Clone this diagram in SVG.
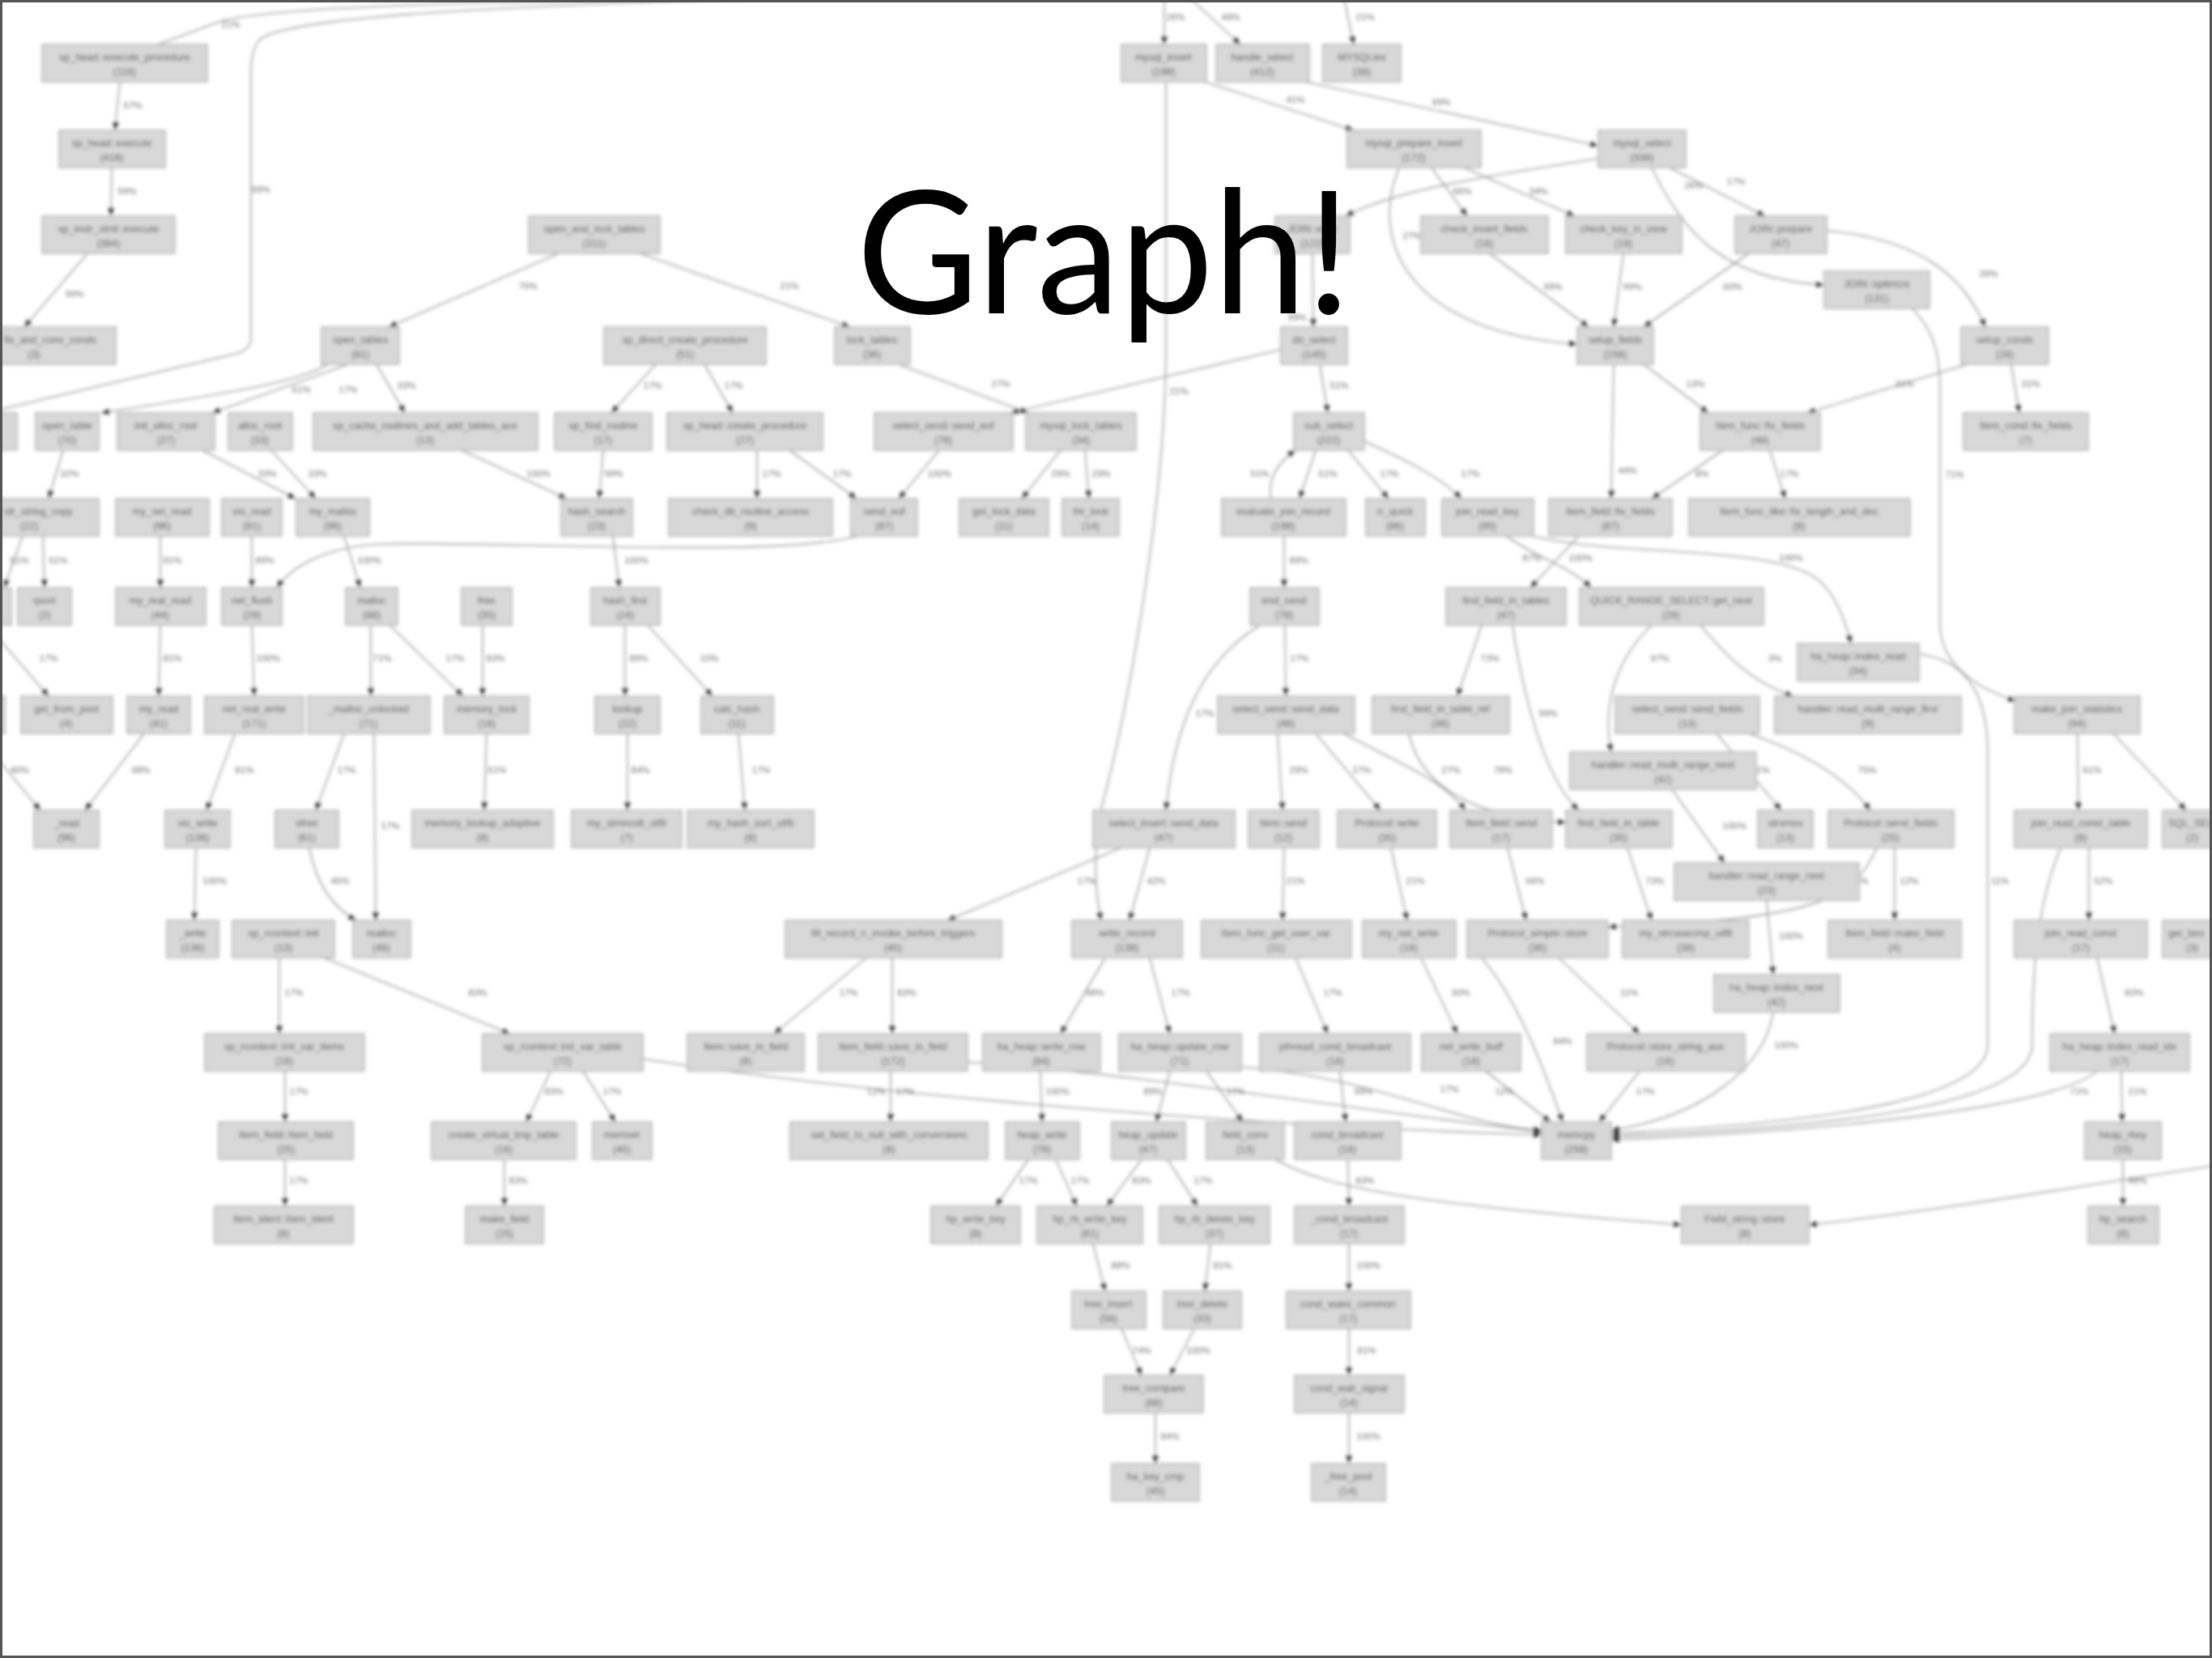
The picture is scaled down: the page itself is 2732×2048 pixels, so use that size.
<svg xmlns="http://www.w3.org/2000/svg" width="2732" height="2048" viewBox="0 0 2732 2048">
<style>
.nd rect{fill:#d8d8d8;stroke:#b0b0b0;stroke-width:1.5}
.nd text{font-family:"Liberation Sans",Arial,sans-serif;font-size:12.5px;fill:#4a4a4a;text-anchor:middle}
.nd text.st{text-anchor:start}
.e path{fill:none;stroke:#9c9c9c;stroke-width:1.6;marker-end:url(#ah)}
.e path.nm{marker-end:none}
.e text{font-family:"Liberation Sans",Arial,sans-serif;font-size:11.5px;fill:#707070;text-anchor:middle}
.title{font-family:Lato,"Open Sans","Liberation Sans",sans-serif;font-size:212px;fill:#000}
</style>
<defs>
<marker id="ah" markerUnits="userSpaceOnUse" markerWidth="10" markerHeight="8" refX="10" refY="4" orient="auto"><path d="M0,0 L10,4 L0,8 z" fill="#333"/></marker>
<filter id="soft" x="-2%" y="-2%" width="104%" height="104%"><feGaussianBlur stdDeviation="2"/></filter>
</defs>
<rect x="0" y="0" width="2732" height="2048" fill="#fff"/>
<g filter="url(#soft)">
<g id="connectors" class="e">
<path class="nm" d="M900,-2 C600,2 320,8 268,28 L195,55"/><text x="285" y="34">21%</text>
<path class="nm" d="M930,-2 C620,8 360,20 322,48 Q310,58 310,90 L310,418 Q310,430 295,436 L-5,507"/><text x="322" y="238">99%</text>
<path d="M148,101 L142,161"/><text x="164" y="134">57%</text>
<path d="M138,207 L137,267"/><text x="157" y="240">99%</text>
<path d="M108,313 L30,404"/><text x="92" y="367">99%</text>
<path d="M1438,-2 L1438,55"/><text x="1452" y="25">26%</text>
<path d="M1470,-2 L1532,55"/><text x="1520" y="25">49%</text>
<path d="M1660,-2 L1672,55"/><text x="1686" y="25">21%</text>
<path d="M1440,101 L1440,430 C1440,600 1400,850 1360,1000 C1350,1050 1352,1100 1360,1137"/><text x="1456" y="487">21%</text><text x="1342" y="1092">17%</text>
<path d="M1488,101 L1672,161"/><text x="1600" y="127">41%</text>
<path d="M1612,101 L1974,180"/><text x="1780" y="130">99%</text>
<path d="M1974,196 C1850,215 1720,235 1662,267"/>
<path d="M1768,207 L1812,267"/><text x="1806" y="240">66%</text>
<path d="M1808,207 L1945,267"/><text x="1900" y="240">34%</text>
<path d="M1728,207 C1690,300 1740,410 1948,425"/><text x="1744" y="295">27%</text>
<path d="M1621,313 L1622,404"/><text x="1602" y="396">99%</text>
<path d="M1840,313 L1962,404"/><text x="1918" y="358">99%</text>
<path d="M2005,313 L1993,404"/><text x="2016" y="358">99%</text>
<path d="M2160,313 L2030,404"/><text x="2140" y="358">60%</text>
<path d="M2062,207 L2180,267"/><text x="2144" y="228">17%</text>
<path d="M2040,207 C2080,290 2130,345 2253,352"/><text x="2092" y="233">26%</text>
<path d="M2256,285 C2370,295 2425,340 2452,404"/><text x="2456" y="342">39%</text>
<path d="M2362,381 C2390,410 2396,440 2396,480 L2396,770 C2396,820 2440,850 2490,866"/><text x="2414" y="590">71%</text>
<path d="M2030,450 L2110,510"/><text x="2094" y="478">13%</text>
<path d="M2430,450 L2232,510"/><text x="2352" y="478">31%</text>
<path d="M2484,450 L2494,510"/><text x="2508" y="478">31%</text>
<path d="M1993,450 L1990,616"/><text x="2010" y="585">44%</text>
<path d="M2128,556 L2040,616"/><text x="2102" y="589">8%</text>
<path d="M2186,556 L2205,616"/><text x="2210" y="589">17%</text>
<path d="M1950,662 L1890,726"/><text x="1892" y="693">87%</text>
<path d="M1860,662 C1900,690 1940,700 1965,726"/><text x="1952" y="693">100%</text>
<path d="M1885,660 C1990,690 2200,670 2250,720 C2270,740 2280,770 2286,795"/><text x="2212" y="693">100%</text>
<path d="M1830,772 L1800,860"/><text x="1840" y="817">73%</text>
<path d="M1868,772 C1880,850 1905,960 1950,1001"/><text x="1912" y="885">99%</text>
<path d="M1740,906 C1760,990 1850,1010 1934,1016"/><text x="1856" y="955">78%</text>
<path d="M2040,772 C1990,820 1980,880 1990,929"/><text x="2050" y="817">97%</text>
<path d="M2100,772 C2140,820 2170,845 2215,860"/><text x="2192" y="817">3%</text>
<path d="M2370,808 C2430,815 2455,860 2455,930 L2455,1290 C2455,1350 2300,1385 1990,1400"/><text x="2470" y="1092">11%</text>
<path d="M2120,906 L2200,1001"/><text x="2174" y="955">21%</text>
<path d="M2160,906 C2230,930 2280,960 2310,1001"/><text x="2306" y="955">75%</text>
<path d="M2065,975 L2130,1066"/><text x="2142" y="1024">100%</text>
<path d="M2182,1112 L2190,1204"/><text x="2212" y="1160">100%</text>
<path d="M2190,1250 C2180,1320 2100,1380 1990,1396"/><text x="2206" y="1295">100%</text>
<path d="M2340,1047 L2340,1137"/><text x="2358" y="1092">12%</text>
<path d="M2318,1047 C2290,1110 2250,1135 1986,1145"/><text x="2296" y="1092">13%</text>
<path d="M2010,1047 L2040,1137"/><text x="2044" y="1092">73%</text>
<path d="M1862,1047 L1885,1137"/><text x="1896" y="1092">66%</text>
<path d="M1925,1183 L2025,1277"/><text x="2012" y="1230">11%</text>
<path d="M2025,1323 L1975,1386"/><text x="2032" y="1352">17%</text>
<path d="M1755,1183 L1800,1277"/><text x="1804" y="1230">30%</text>
<path d="M1830,1183 C1870,1230 1900,1300 1930,1386"/><text x="1930" y="1290">84%</text>
<path d="M1718,1047 L1738,1137"/><text x="1748" y="1092">21%</text>
<path d="M1586,1047 L1584,1137"/><text x="1600" y="1092">21%</text>
<path d="M1600,1183 L1640,1277"/><text x="1646" y="1230">17%</text>
<path d="M1655,1323 L1662,1386"/><text x="1684" y="1352">99%</text>
<path d="M1665,1432 L1666,1490"/><text x="1686" y="1462">83%</text>
<path d="M1666,1536 L1666,1595"/><text x="1690" y="1567">100%</text>
<path d="M1666,1641 L1666,1699"/><text x="1688" y="1672">81%</text>
<path d="M1666,1745 L1666,1808"/><text x="1690" y="1778">100%</text>
<path d="M1578,906 L1584,1001"/><text x="1604" y="955">29%</text>
<path d="M1625,906 L1705,1001"/><text x="1682" y="955">27%</text>
<path d="M1660,906 C1720,940 1780,960 1810,1001"/><text x="1792" y="955">27%</text>
<path d="M1587,772 L1588,860"/><text x="1605" y="817">17%</text>
<path d="M1556,772 C1480,820 1450,900 1440,1001"/><text x="1488" y="885">17%</text>
<path d="M1586,662 L1586,726"/><text x="1604" y="696">89%</text>
<path d="M1625,556 L1605,616"/><text x="1640" y="589">51%</text>
<path d="M1570,616 C1565,590 1580,570 1600,556"/><text x="1556" y="589">51%</text>
<path d="M1665,556 L1715,616"/><text x="1716" y="589">17%</text>
<path d="M1685,545 C1740,570 1780,590 1805,616"/><text x="1816" y="589">17%</text>
<path d="M1630,450 L1640,510"/><text x="1654" y="480">51%</text>
<path d="M1582,432 L1248,510"/>
<path d="M1110,450 L1270,510"/><text x="1236" y="478">27%</text>
<path d="M690,313 L480,404"/><text x="652" y="357">76%</text>
<path d="M790,313 L1050,404"/><text x="975" y="357">21%</text>
<path d="M405,450 C370,470 320,480 125,510"/><text x="372" y="485">61%</text>
<path d="M430,450 L262,510"/><text x="430" y="485">17%</text>
<path d="M465,450 L500,510"/><text x="502" y="480">33%</text>
<path d="M810,450 L755,510"/><text x="806" y="480">17%</text>
<path d="M870,450 L905,510"/><text x="906" y="480">17%</text>
<path d="M78,556 L60,616"/><text x="86" y="589">32%</text>
<path d="M250,556 L365,616"/><text x="330" y="589">33%</text>
<path d="M335,556 L390,616"/><text x="392" y="589">33%</text>
<path d="M570,556 L700,616"/><text x="665" y="589">100%</text>
<path d="M745,556 L740,616"/><text x="758" y="589">99%</text>
<path d="M935,556 L935,616"/><text x="953" y="589">17%</text>
<path d="M975,556 L1058,616"/><text x="1040" y="589">17%</text>
<path d="M1160,556 L1110,616"/><text x="1160" y="589">100%</text>
<path d="M1310,556 L1262,616"/><text x="1310" y="589">29%</text>
<path d="M1340,556 L1345,616"/><text x="1360" y="589">29%</text>
<path d="M757,662 L765,726"/><text x="786" y="696">100%</text>
<path d="M425,662 L445,726"/><text x="456" y="696">100%</text>
<path d="M1060,662 C960,690 620,668 470,672 C400,676 360,700 342,726"/>
<path d="M53,662 L55,726"/><text x="72" y="696">51%</text>
<path d="M28,662 L5,726"/><text x="24" y="696">51%</text>
<path d="M198,662 L198,726"/><text x="213" y="696">81%</text>
<path d="M311,662 L311,726"/><text x="327" y="696">89%</text>
<path d="M198,772 L196,860"/><text x="213" y="817">81%</text>
<path d="M311,772 L314,860"/><text x="331" y="817">100%</text>
<path d="M458,772 L458,860"/><text x="472" y="817">71%</text>
<path d="M481,772 L572,860"/><text x="562" y="817">17%</text>
<path d="M596,772 L596,860"/><text x="612" y="817">83%</text>
<path d="M772,772 L772,860"/><text x="789" y="817">89%</text>
<path d="M800,772 L880,860"/><text x="876" y="817">10%</text>
<path d="M-5,785 L60,860"/><text x="60" y="817">17%</text>
<path d="M178,906 L105,1001"/><text x="174" y="955">98%</text>
<path d="M-5,935 L50,1001"/><text x="24" y="955">40%</text>
<path d="M290,906 L255,1001"/><text x="302" y="955">81%</text>
<path d="M425,906 L390,1001"/><text x="428" y="955">17%</text>
<path d="M462,906 L464,1137"/><text x="482" y="1024">17%</text>
<path d="M601,906 L598,1001"/><text x="614" y="955">61%</text>
<path d="M775,906 L775,1001"/><text x="791" y="955">84%</text>
<path d="M912,906 L920,1001"/><text x="940" y="955">17%</text>
<path d="M242,1047 L240,1137"/><text x="265" y="1092">100%</text>
<path d="M382,1047 C390,1090 410,1120 440,1137"/><text x="420" y="1092">45%</text>
<path d="M345,1183 L345,1277"/><text x="363" y="1230">17%</text>
<path d="M400,1183 L630,1277"/><text x="590" y="1230">83%</text>
<path d="M352,1323 L352,1386"/><text x="369" y="1352">17%</text>
<path d="M352,1432 L352,1490"/><text x="369" y="1462">17%</text>
<path d="M680,1323 L650,1386"/><text x="684" y="1352">83%</text>
<path d="M720,1323 L760,1386"/><text x="756" y="1352">17%</text>
<path d="M623,1432 L623,1490"/><text x="640" y="1462">83%</text>
<path d="M794,1308 C1000,1340 1400,1385 1904,1402"/>
<path d="M1195,1312 C1400,1325 1700,1375 1904,1398"/>
<path d="M1533,1318 C1700,1330 1800,1390 1904,1396"/><text x="1790" y="1349">17%</text>
<path d="M1835,1323 L1915,1386"/><text x="1858" y="1352">12%</text>
<path d="M1070,1183 L956,1277"/><text x="1048" y="1230">17%</text>
<path d="M1102,1183 L1102,1277"/><text x="1120" y="1230">83%</text>
<path d="M1385,1047 L1170,1137"/>
<path d="M1420,1047 L1395,1137"/><text x="1428" y="1092">42%</text>
<path d="M1365,1183 L1310,1277"/><text x="1352" y="1230">98%</text>
<path d="M1420,1183 L1445,1277"/><text x="1458" y="1230">17%</text>
<path d="M1285,1323 L1287,1386"/><text x="1306" y="1352">100%</text>
<path d="M1445,1323 L1428,1386"/><text x="1424" y="1352">89%</text>
<path d="M1490,1323 L1535,1386"/><text x="1526" y="1352">17%</text>
<path d="M1100,1323 L1100,1386"/><text x="1082" y="1352">12%</text><text x="1118" y="1352">17%</text>
<path d="M1270,1432 L1230,1490"/><text x="1270" y="1462">17%</text>
<path d="M1304,1432 L1330,1490"/><text x="1334" y="1462">17%</text>
<path d="M1410,1432 L1367,1490"/><text x="1410" y="1462">83%</text>
<path d="M1442,1432 L1479,1490"/><text x="1486" y="1462">17%</text>
<path d="M1350,1536 L1365,1595"/><text x="1384" y="1567">88%</text>
<path d="M1495,1536 L1488,1595"/><text x="1510" y="1567">81%</text>
<path d="M1385,1641 L1410,1699"/><text x="1410" y="1672">74%</text>
<path d="M1475,1641 L1445,1699"/><text x="1480" y="1672">100%</text>
<path d="M1427,1745 L1427,1808"/><text x="1445" y="1778">84%</text>
<path d="M1575,1432 C1650,1475 1800,1490 2077,1513"/>
<path d="M2735,1440 C2600,1460 2400,1495 2234,1513"/>
<path d="M2580,1047 L2580,1137"/><text x="2598" y="1092">52%</text>
<path d="M2545,1047 C2515,1120 2510,1200 2510,1290 C2510,1360 2300,1392 1990,1404"/><text x="2526" y="1183">66%</text>
<path d="M2590,1183 L2612,1277"/><text x="2636" y="1230">83%</text>
<path d="M2620,1323 L2621,1386"/><text x="2640" y="1352">21%</text>
<path d="M2590,1323 C2540,1365 2300,1395 1990,1408"/><text x="2568" y="1352">71%</text>
<path d="M2622,1432 L2622,1490"/><text x="2640" y="1462">88%</text>
<path d="M2566,906 L2567,1001"/><text x="2584" y="955">61%</text>
<path d="M2610,906 L2700,1001"/>
</g>
<g id="nodes">
<g id="n1" class="nd"><rect x="52" y="55" width="204" height="46"/><text x="154" y="75">sp_head::execute_procedure</text><text x="154" y="93">(116)</text></g>
<g id="n2" class="nd"><rect x="1385" y="55" width="105" height="46"/><text x="1437" y="75">mysql_insert</text><text x="1437" y="93">(198)</text></g>
<g id="n3" class="nd"><rect x="1502" y="55" width="115" height="46"/><text x="1559" y="75">handle_select</text><text x="1559" y="93">(412)</text></g>
<g id="n4" class="nd"><rect x="1634" y="55" width="96" height="46"/><text x="1682" y="75">MYSQLlex</text><text x="1682" y="93">(38)</text></g>
<g id="n5" class="nd"><rect x="73" y="161" width="131" height="46"/><text x="138" y="181">sp_head::execute</text><text x="138" y="199">(416)</text></g>
<g id="n6" class="nd"><rect x="1664" y="161" width="165" height="46"/><text x="1746" y="181">mysql_prepare_insert</text><text x="1746" y="199">(172)</text></g>
<g id="n7" class="nd"><rect x="1974" y="161" width="108" height="46"/><text x="2028" y="181">mysql_select</text><text x="2028" y="199">(338)</text></g>
<g id="n8" class="nd"><rect x="52" y="267" width="164" height="46"/><text x="134" y="287">sp_instr_stmt::execute</text><text x="134" y="305">(384)</text></g>
<g id="n9" class="nd"><rect x="653" y="267" width="162" height="46"/><text x="734" y="287">open_and_lock_tables</text><text x="734" y="305">(311)</text></g>
<g id="n10" class="nd"><rect x="1575" y="267" width="92" height="46"/><text x="1621" y="287">JOIN::exec</text><text x="1621" y="305">(122)</text></g>
<g id="n11" class="nd"><rect x="1755" y="267" width="157" height="46"/><text x="1833" y="287">check_insert_fields</text><text x="1833" y="305">(18)</text></g>
<g id="n12" class="nd"><rect x="1934" y="267" width="143" height="46"/><text x="2005" y="287">check_key_in_view</text><text x="2005" y="305">(19)</text></g>
<g id="n13" class="nd"><rect x="2143" y="267" width="113" height="46"/><text x="2199" y="287">JOIN::prepare</text><text x="2199" y="305">(47)</text></g>
<g id="n14" class="nd"><rect x="2253" y="335" width="130" height="46"/><text x="2318" y="355">JOIN::optimize</text><text x="2318" y="373">(131)</text></g>
<g id="n15" class="nd"><rect x="-60" y="404" width="203" height="46"/><text class="st" x="5" y="424">fix_and_conv_conds</text><text x="42" y="442">(3)</text></g>
<g id="n16" class="nd"><rect x="397" y="404" width="96" height="46"/><text x="445" y="424">open_tables</text><text x="445" y="442">(81)</text></g>
<g id="n17" class="nd"><rect x="746" y="404" width="200" height="46"/><text x="846" y="424">sp_direct_create_procedure</text><text x="846" y="442">(51)</text></g>
<g id="n18" class="nd"><rect x="1031" y="404" width="93" height="46"/><text x="1077" y="424">lock_tables</text><text x="1077" y="442">(36)</text></g>
<g id="n19" class="nd"><rect x="1582" y="404" width="82" height="46"/><text x="1623" y="424">do_select</text><text x="1623" y="442">(145)</text></g>
<g id="n20" class="nd"><rect x="1948" y="404" width="94" height="46"/><text x="1995" y="424">setup_fields</text><text x="1995" y="442">(158)</text></g>
<g id="n21" class="nd"><rect x="2422" y="404" width="108" height="46"/><text x="2476" y="424">setup_conds</text><text x="2476" y="442">(28)</text></g>
<g id="n22" class="nd"><rect x="-60" y="510" width="81" height="46"/></g>
<g id="n23" class="nd"><rect x="44" y="510" width="78" height="46"/><text x="83" y="530">open_table</text><text x="83" y="548">(70)</text></g>
<g id="n24" class="nd"><rect x="145" y="510" width="120" height="46"/><text x="205" y="530">init_alloc_root</text><text x="205" y="548">(27)</text></g>
<g id="n25" class="nd"><rect x="282" y="510" width="79" height="46"/><text x="321" y="530">alloc_root</text><text x="321" y="548">(33)</text></g>
<g id="n26" class="nd"><rect x="387" y="510" width="277" height="46"/><text x="525" y="530">sp_cache_routines_and_add_tables_aux</text><text x="525" y="548">(13)</text></g>
<g id="n27" class="nd"><rect x="685" y="510" width="120" height="46"/><text x="745" y="530">sp_find_routine</text><text x="745" y="548">(17)</text></g>
<g id="n28" class="nd"><rect x="824" y="510" width="192" height="46"/><text x="920" y="530">sp_head::create_procedure</text><text x="920" y="548">(27)</text></g>
<g id="n29" class="nd"><rect x="1080" y="510" width="171" height="46"/><text x="1165" y="530">select_send::send_eof</text><text x="1165" y="548">(78)</text></g>
<g id="n30" class="nd"><rect x="1267" y="510" width="136" height="46"/><text x="1335" y="530">mysql_lock_tables</text><text x="1335" y="548">(34)</text></g>
<g id="n31" class="nd"><rect x="1598" y="510" width="87" height="46"/><text x="1641" y="530">sub_select</text><text x="1641" y="548">(222)</text></g>
<g id="n32" class="nd"><rect x="2100" y="510" width="148" height="46"/><text x="2174" y="530">Item_func::fix_fields</text><text x="2174" y="548">(48)</text></g>
<g id="n33" class="nd"><rect x="2425" y="510" width="154" height="46"/><text x="2502" y="530">Item_cond::fix_fields</text><text x="2502" y="548">(7)</text></g>
<g id="n34" class="nd"><rect x="-50" y="616" width="172" height="46"/><text class="st" x="5" y="636">str_string_copy</text><text x="36" y="654">(22)</text></g>
<g id="n35" class="nd"><rect x="143" y="616" width="115" height="46"/><text x="200" y="636">my_net_read</text><text x="200" y="654">(96)</text></g>
<g id="n36" class="nd"><rect x="274" y="616" width="74" height="46"/><text x="311" y="636">vio_read</text><text x="311" y="654">(81)</text></g>
<g id="n37" class="nd"><rect x="366" y="616" width="90" height="46"/><text x="411" y="636">my_malloc</text><text x="411" y="654">(96)</text></g>
<g id="n38" class="nd"><rect x="693" y="616" width="88" height="46"/><text x="737" y="636">hash_search</text><text x="737" y="654">(23)</text></g>
<g id="n39" class="nd"><rect x="826" y="616" width="202" height="46"/><text x="927" y="636">check_db_routine_access</text><text x="927" y="654">(9)</text></g>
<g id="n40" class="nd"><rect x="1051" y="616" width="82" height="46"/><text x="1092" y="636">send_eof</text><text x="1092" y="654">(87)</text></g>
<g id="n41" class="nd"><rect x="1185" y="616" width="110" height="46"/><text x="1240" y="636">get_lock_data</text><text x="1240" y="654">(11)</text></g>
<g id="n42" class="nd"><rect x="1312" y="616" width="70" height="46"/><text x="1347" y="636">thr_lock</text><text x="1347" y="654">(14)</text></g>
<g id="n43" class="nd"><rect x="1509" y="616" width="153" height="46"/><text x="1585" y="636">evaluate_join_record</text><text x="1585" y="654">(198)</text></g>
<g id="n44" class="nd"><rect x="1687" y="616" width="73" height="46"/><text x="1723" y="636">rr_quick</text><text x="1723" y="654">(86)</text></g>
<g id="n45" class="nd"><rect x="1781" y="616" width="113" height="46"/><text x="1837" y="636">join_read_key</text><text x="1837" y="654">(95)</text></g>
<g id="n46" class="nd"><rect x="1913" y="616" width="152" height="46"/><text x="1989" y="636">Item_field::fix_fields</text><text x="1989" y="654">(87)</text></g>
<g id="n47" class="nd"><rect x="2086" y="616" width="273" height="46"/><text x="2222" y="636">Item_func_like::fix_length_and_dec</text><text x="2222" y="654">(8)</text></g>
<g id="n48" class="nd"><rect x="-60" y="726" width="74" height="46"/></g>
<g id="n49" class="nd"><rect x="22" y="726" width="66" height="46"/><text x="55" y="746">qsort</text><text x="55" y="764">(2)</text></g>
<g id="n50" class="nd"><rect x="143" y="726" width="111" height="46"/><text x="198" y="746">my_real_read</text><text x="198" y="764">(44)</text></g>
<g id="n51" class="nd"><rect x="274" y="726" width="74" height="46"/><text x="311" y="746">net_flush</text><text x="311" y="764">(29)</text></g>
<g id="n52" class="nd"><rect x="427" y="726" width="64" height="46"/><text x="459" y="746">malloc</text><text x="459" y="764">(88)</text></g>
<g id="n53" class="nd"><rect x="570" y="726" width="62" height="46"/><text x="601" y="746">free</text><text x="601" y="764">(35)</text></g>
<g id="n54" class="nd"><rect x="730" y="726" width="85" height="46"/><text x="772" y="746">hash_first</text><text x="772" y="764">(24)</text></g>
<g id="n55" class="nd"><rect x="1544" y="726" width="85" height="46"/><text x="1586" y="746">end_send</text><text x="1586" y="764">(78)</text></g>
<g id="n56" class="nd"><rect x="1786" y="726" width="148" height="46"/><text x="1860" y="746">find_field_in_tables</text><text x="1860" y="764">(47)</text></g>
<g id="n57" class="nd"><rect x="1951" y="726" width="227" height="46"/><text x="2064" y="746">QUICK_RANGE_SELECT::get_next</text><text x="2064" y="764">(28)</text></g>
<g id="n58" class="nd"><rect x="2220" y="795" width="150" height="46"/><text x="2295" y="815">ha_heap::index_read</text><text x="2295" y="833">(34)</text></g>
<g id="n59" class="nd"><rect x="-60" y="860" width="66" height="46"/></g>
<g id="n60" class="nd"><rect x="26" y="860" width="113" height="46"/><text x="82" y="880">get_from_pool</text><text x="82" y="898">(4)</text></g>
<g id="n61" class="nd"><rect x="157" y="860" width="78" height="46"/><text x="196" y="880">my_read</text><text x="196" y="898">(41)</text></g>
<g id="n62" class="nd"><rect x="253" y="860" width="122" height="46"/><text x="314" y="880">net_real_write</text><text x="314" y="898">(171)</text></g>
<g id="n63" class="nd"><rect x="380" y="860" width="151" height="46"/><text x="455" y="880">_malloc_unlocked</text><text x="455" y="898">(71)</text></g>
<g id="n64" class="nd"><rect x="549" y="860" width="104" height="46"/><text x="601" y="880">memory_lock</text><text x="601" y="898">(18)</text></g>
<g id="n65" class="nd"><rect x="735" y="860" width="80" height="46"/><text x="775" y="880">lookup</text><text x="775" y="898">(22)</text></g>
<g id="n66" class="nd"><rect x="866" y="860" width="89" height="46"/><text x="910" y="880">calc_hash</text><text x="910" y="898">(11)</text></g>
<g id="n67" class="nd"><rect x="1504" y="860" width="169" height="46"/><text x="1588" y="880">select_send::send_data</text><text x="1588" y="898">(48)</text></g>
<g id="n68" class="nd"><rect x="1695" y="860" width="169" height="46"/><text x="1779" y="880">find_field_in_table_ref</text><text x="1779" y="898">(36)</text></g>
<g id="n69" class="nd"><rect x="1995" y="860" width="178" height="46"/><text x="2084" y="880">select_send::send_fields</text><text x="2084" y="898">(13)</text></g>
<g id="n70" class="nd"><rect x="2192" y="860" width="230" height="46"/><text x="2307" y="880">handler::read_multi_range_first</text><text x="2307" y="898">(9)</text></g>
<g id="n71" class="nd"><rect x="2488" y="860" width="155" height="46"/><text x="2565" y="880">make_join_statistics</text><text x="2565" y="898">(94)</text></g>
<g id="n72" class="nd"><rect x="1939" y="929" width="230" height="46"/><text x="2054" y="949">handler::read_multi_range_next</text><text x="2054" y="967">(42)</text></g>
<g id="n73" class="nd"><rect x="42" y="1001" width="80" height="46"/><text x="82" y="1021">_read</text><text x="82" y="1039">(96)</text></g>
<g id="n74" class="nd"><rect x="204" y="1001" width="80" height="46"/><text x="244" y="1021">vio_write</text><text x="244" y="1039">(136)</text></g>
<g id="n75" class="nd"><rect x="340" y="1001" width="78" height="46"/><text x="379" y="1021">sfree</text><text x="379" y="1039">(61)</text></g>
<g id="n76" class="nd"><rect x="509" y="1001" width="174" height="46"/><text x="596" y="1021">memory_lookup_adaptive</text><text x="596" y="1039">(8)</text></g>
<g id="n77" class="nd"><rect x="706" y="1001" width="136" height="46"/><text x="774" y="1021">my_strnncoll_utf8</text><text x="774" y="1039">(7)</text></g>
<g id="n78" class="nd"><rect x="849" y="1001" width="156" height="46"/><text x="927" y="1021">my_hash_sort_utf8</text><text x="927" y="1039">(8)</text></g>
<g id="n79" class="nd"><rect x="1350" y="1001" width="175" height="46"/><text x="1437" y="1021">select_insert::send_data</text><text x="1437" y="1039">(47)</text></g>
<g id="n80" class="nd"><rect x="1542" y="1001" width="87" height="46"/><text x="1585" y="1021">Item::send</text><text x="1585" y="1039">(12)</text></g>
<g id="n81" class="nd"><rect x="1652" y="1001" width="122" height="46"/><text x="1713" y="1021">Protocol::write</text><text x="1713" y="1039">(35)</text></g>
<g id="n82" class="nd"><rect x="1791" y="1001" width="126" height="46"/><text x="1854" y="1021">Item_field::send</text><text x="1854" y="1039">(17)</text></g>
<g id="n83" class="nd"><rect x="1934" y="1001" width="131" height="46"/><text x="1999" y="1021">find_field_in_table</text><text x="1999" y="1039">(35)</text></g>
<g id="n84" class="nd"><rect x="2171" y="1001" width="68" height="46"/><text x="2205" y="1021">strxmov</text><text x="2205" y="1039">(13)</text></g>
<g id="n85" class="nd"><rect x="2258" y="1001" width="155" height="46"/><text x="2335" y="1021">Protocol::send_fields</text><text x="2335" y="1039">(25)</text></g>
<g id="n86" class="nd"><rect x="2488" y="1001" width="164" height="46"/><text x="2570" y="1021">join_read_const_table</text><text x="2570" y="1039">(8)</text></g>
<g id="n87" class="nd"><rect x="2671" y="1001" width="140" height="46"/><text class="st" x="2678" y="1021">SQL_SEL</text><text class="st" x="2700" y="1039">(2)</text></g>
<g id="n88" class="nd"><rect x="2068" y="1066" width="228" height="46"/><text x="2182" y="1086">handler::read_range_next</text><text x="2182" y="1104">(23)</text></g>
<g id="n89" class="nd"><rect x="206" y="1137" width="64" height="46"/><text x="238" y="1157">_write</text><text x="238" y="1175">(136)</text></g>
<g id="n90" class="nd"><rect x="287" y="1137" width="126" height="46"/><text x="350" y="1157">sp_rcontext::init</text><text x="350" y="1175">(13)</text></g>
<g id="n91" class="nd"><rect x="436" y="1137" width="71" height="46"/><text x="471" y="1157">realloc</text><text x="471" y="1175">(48)</text></g>
<g id="n92" class="nd"><rect x="970" y="1137" width="267" height="46"/><text x="1103" y="1157">fill_record_n_invoke_before_triggers</text><text x="1103" y="1175">(45)</text></g>
<g id="n93" class="nd"><rect x="1324" y="1137" width="136" height="46"/><text x="1392" y="1157">write_record</text><text x="1392" y="1175">(138)</text></g>
<g id="n94" class="nd"><rect x="1484" y="1137" width="185" height="46"/><text x="1576" y="1157">Item_func_get_user_var</text><text x="1576" y="1175">(11)</text></g>
<g id="n95" class="nd"><rect x="1683" y="1137" width="115" height="46"/><text x="1740" y="1157">my_net_write</text><text x="1740" y="1175">(18)</text></g>
<g id="n96" class="nd"><rect x="1812" y="1137" width="174" height="46"/><text x="1899" y="1157">Protocol_simple::store</text><text x="1899" y="1175">(36)</text></g>
<g id="n97" class="nd"><rect x="2004" y="1137" width="156" height="46"/><text x="2082" y="1157">my_strcasecmp_utf8</text><text x="2082" y="1175">(38)</text></g>
<g id="n98" class="nd"><rect x="2258" y="1137" width="164" height="46"/><text x="2340" y="1157">Item_field::make_field</text><text x="2340" y="1175">(4)</text></g>
<g id="n99" class="nd"><rect x="2488" y="1137" width="164" height="46"/><text x="2570" y="1157">join_read_const</text><text x="2570" y="1175">(17)</text></g>
<g id="n100" class="nd"><rect x="2671" y="1137" width="140" height="46"/><text class="st" x="2678" y="1157">get_bes</text><text class="st" x="2700" y="1175">(3)</text></g>
<g id="n101" class="nd"><rect x="2117" y="1204" width="155" height="46"/><text x="2194" y="1224">ha_heap::index_next</text><text x="2194" y="1242">(42)</text></g>
<g id="n102" class="nd"><rect x="253" y="1277" width="197" height="46"/><text x="351" y="1297">sp_rcontext::init_var_items</text><text x="351" y="1315">(16)</text></g>
<g id="n103" class="nd"><rect x="596" y="1277" width="198" height="46"/><text x="695" y="1297">sp_rcontext::init_var_table</text><text x="695" y="1315">(72)</text></g>
<g id="n104" class="nd"><rect x="849" y="1277" width="144" height="46"/><text x="921" y="1297">Item::save_in_field</text><text x="921" y="1315">(8)</text></g>
<g id="n105" class="nd"><rect x="1011" y="1277" width="184" height="46"/><text x="1103" y="1297">Item_field::save_in_field</text><text x="1103" y="1315">(172)</text></g>
<g id="n106" class="nd"><rect x="1214" y="1277" width="145" height="46"/><text x="1286" y="1297">ha_heap::write_row</text><text x="1286" y="1315">(84)</text></g>
<g id="n107" class="nd"><rect x="1382" y="1277" width="151" height="46"/><text x="1457" y="1297">ha_heap::update_row</text><text x="1457" y="1315">(71)</text></g>
<g id="n108" class="nd"><rect x="1556" y="1277" width="186" height="46"/><text x="1649" y="1297">pthread_cond_broadcast</text><text x="1649" y="1315">(18)</text></g>
<g id="n109" class="nd"><rect x="1756" y="1277" width="122" height="46"/><text x="1817" y="1297">net_write_buff</text><text x="1817" y="1315">(18)</text></g>
<g id="n110" class="nd"><rect x="1960" y="1277" width="195" height="46"/><text x="2057" y="1297">Protocol::store_string_aux</text><text x="2057" y="1315">(16)</text></g>
<g id="n111" class="nd"><rect x="2532" y="1277" width="172" height="46"/><text x="2618" y="1297">ha_heap::index_read_idx</text><text x="2618" y="1315">(17)</text></g>
<g id="n112" class="nd"><rect x="270" y="1386" width="166" height="46"/><text x="353" y="1406">Item_field::Item_field</text><text x="353" y="1424">(25)</text></g>
<g id="n113" class="nd"><rect x="533" y="1386" width="178" height="46"/><text x="622" y="1406">create_virtual_tmp_table</text><text x="622" y="1424">(16)</text></g>
<g id="n114" class="nd"><rect x="732" y="1386" width="73" height="46"/><text x="768" y="1406">memset</text><text x="768" y="1424">(45)</text></g>
<g id="n115" class="nd"><rect x="976" y="1386" width="244" height="46"/><text x="1098" y="1406">set_field_to_null_with_conversions</text><text x="1098" y="1424">(8)</text></g>
<g id="n116" class="nd"><rect x="1242" y="1386" width="91" height="46"/><text x="1287" y="1406">heap_write</text><text x="1287" y="1424">(78)</text></g>
<g id="n117" class="nd"><rect x="1373" y="1386" width="91" height="46"/><text x="1418" y="1406">heap_update</text><text x="1418" y="1424">(47)</text></g>
<g id="n118" class="nd"><rect x="1490" y="1386" width="96" height="46"/><text x="1538" y="1406">field_conv</text><text x="1538" y="1424">(13)</text></g>
<g id="n119" class="nd"><rect x="1599" y="1386" width="131" height="46"/><text x="1664" y="1406">cond_broadcast</text><text x="1664" y="1424">(18)</text></g>
<g id="n120" class="nd"><rect x="1904" y="1386" width="86" height="46"/><text x="1947" y="1406">memcpy</text><text x="1947" y="1424">(258)</text></g>
<g id="n121" class="nd"><rect x="2575" y="1386" width="94" height="46"/><text x="2622" y="1406">heap_rkey</text><text x="2622" y="1424">(15)</text></g>
<g id="n122" class="nd"><rect x="265" y="1490" width="171" height="46"/><text x="350" y="1510">Item_ident::Item_ident</text><text x="350" y="1528">(8)</text></g>
<g id="n123" class="nd"><rect x="575" y="1490" width="96" height="46"/><text x="623" y="1510">make_field</text><text x="623" y="1528">(25)</text></g>
<g id="n124" class="nd"><rect x="1150" y="1490" width="110" height="46"/><text x="1205" y="1510">hp_write_key</text><text x="1205" y="1528">(8)</text></g>
<g id="n125" class="nd"><rect x="1281" y="1490" width="130" height="46"/><text x="1346" y="1510">hp_rb_write_key</text><text x="1346" y="1528">(61)</text></g>
<g id="n126" class="nd"><rect x="1432" y="1490" width="136" height="46"/><text x="1500" y="1510">hp_rb_delete_key</text><text x="1500" y="1528">(37)</text></g>
<g id="n127" class="nd"><rect x="1599" y="1490" width="135" height="46"/><text x="1666" y="1510">_cond_broadcast</text><text x="1666" y="1528">(17)</text></g>
<g id="n128" class="nd"><rect x="2077" y="1490" width="157" height="46"/><text x="2155" y="1510">Field_string::store</text><text x="2155" y="1528">(8)</text></g>
<g id="n129" class="nd"><rect x="2579" y="1490" width="87" height="46"/><text x="2622" y="1510">hp_search</text><text x="2622" y="1528">(8)</text></g>
<g id="n130" class="nd"><rect x="1324" y="1595" width="91" height="46"/><text x="1369" y="1615">tree_insert</text><text x="1369" y="1633">(58)</text></g>
<g id="n131" class="nd"><rect x="1437" y="1595" width="96" height="46"/><text x="1485" y="1615">tree_delete</text><text x="1485" y="1633">(33)</text></g>
<g id="n132" class="nd"><rect x="1589" y="1595" width="153" height="46"/><text x="1665" y="1615">cond_wake_common</text><text x="1665" y="1633">(17)</text></g>
<g id="n133" class="nd"><rect x="1364" y="1699" width="122" height="46"/><text x="1425" y="1719">tree_compare</text><text x="1425" y="1737">(88)</text></g>
<g id="n134" class="nd"><rect x="1599" y="1699" width="135" height="46"/><text x="1666" y="1719">cond_wait_signal</text><text x="1666" y="1737">(14)</text></g>
<g id="n135" class="nd"><rect x="1373" y="1808" width="108" height="46"/><text x="1427" y="1828">ha_key_cmp</text><text x="1427" y="1846">(45)</text></g>
<g id="n136" class="nd"><rect x="1620" y="1808" width="91" height="46"/><text x="1665" y="1828">_free_pool</text><text x="1665" y="1846">(14)</text></g>
</g>
</g>
<text class="title" x="1058" y="387" textLength="611" lengthAdjust="spacingAndGlyphs">Graph!</text>
<rect x="1.5" y="1.5" width="2729" height="2045" fill="none" stroke="#555" stroke-width="3"/>
</svg>
